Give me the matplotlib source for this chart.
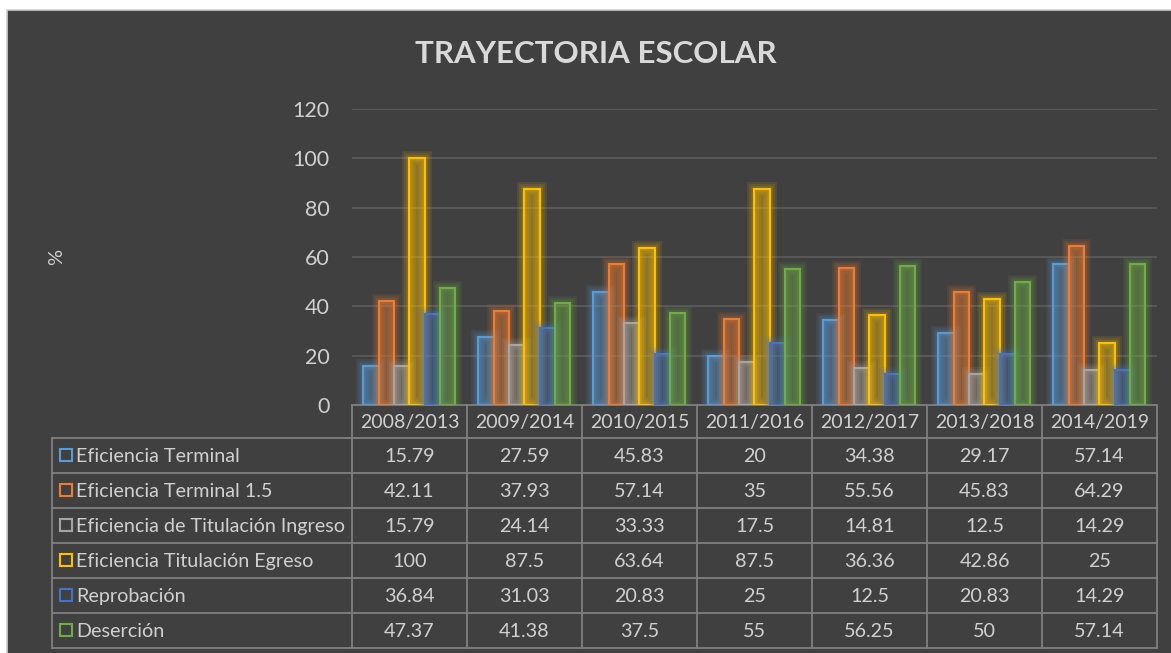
import matplotlib
matplotlib.use("Agg")
import matplotlib.pyplot as plt
import matplotlib.patheffects as pe
from matplotlib.patches import Rectangle
import numpy as np

plt.rcParams['font.family'] = ['Lato', 'DejaVu Sans']

title = "TRAYECTORIA ESCOLAR"
categories = ["2008/2013", "2009/2014", "2010/2015", "2011/2016", "2012/2017", "2013/2018", "2014/2019"]
series_names = ["Eficiencia Terminal", "Eficiencia Terminal 1.5", "Eficiencia de Titulación Ingreso",
                "Eficiencia Titulación Egreso", "Reprobación", "Deserción"]
eficiencia_terminal = [15.79, 27.59, 45.83, 20, 34.38, 29.17, 57.14]
eficiencia_terminal_15 = [42.11, 37.93, 57.14, 35, 55.56, 45.83, 64.29]
titulacion_ingreso = [15.79, 24.14, 33.33, 17.5, 14.81, 12.5, 14.29]
titulacion_egreso = [100, 87.5, 63.64, 87.5, 36.36, 42.86, 25]
reprobacion = [36.84, 31.03, 20.83, 25, 12.5, 20.83, 14.29]
desercion = [47.37, 41.38, 37.5, 55, 56.25, 50, 57.14]
table_labels = [["15.79", "27.59", "45.83", "20", "34.38", "29.17", "57.14"],
                ["42.11", "37.93", "57.14", "35", "55.56", "45.83", "64.29"],
                ["15.79", "24.14", "33.33", "17.5", "14.81", "12.5", "14.29"],
                ["100", "87.5", "63.64", "87.5", "36.36", "42.86", "25"],
                ["36.84", "31.03", "20.83", "25", "12.5", "20.83", "14.29"],
                ["47.37", "41.38", "37.5", "55", "56.25", "50", "57.14"]]
series = [eficiencia_terminal, eficiencia_terminal_15, titulacion_ingreso,
          titulacion_egreso, reprobacion, desercion]
colors = ["#5B9BD5", "#ED7D31", "#A5A5A5", "#FFC000", "#4472C4", "#70AD47"]
yticks = [0, 20, 40, 60, 80, 100, 120]

W, H = 1171, 653
BG = "#404040"
TXT = "#D0D0D0"
LINE = "#808080"

fig = plt.figure(figsize=(W / 100, H / 100), dpi=100)
fig.patch.set_facecolor("white")

# overlay axes in pixel coordinates for frame and table
ov = fig.add_axes([0, 0, 1, 1])
ov.set_xlim(0, W)
ov.set_ylim(H, 0)
ov.axis("off")
ov.add_patch(Rectangle((6.5, 9.5), W, H, facecolor=BG, edgecolor="#D0D0D0", lw=1.2, zorder=0))

# plot axes
x0, x1 = 352, 1157
y0, y1 = 405, 109
ax = fig.add_axes([x0 / W, (H - y0) / H, (x1 - x0) / W, (y0 - y1) / H])
ax.set_facecolor("none")
ax.set_xlim(0, len(categories))
ax.set_ylim(0, 120)
for s in ax.spines.values():
    s.set_visible(False)
ax.set_yticks(yticks)
ax.set_yticklabels([str(v) for v in yticks], color=TXT, fontsize=15.5)
ax.tick_params(axis="y", length=0, pad=16)
ax.set_xticks([])
for v in yticks[1:]:
    ax.axhline(v, color="#5A5A5A", lw=1.3, zorder=0)

n = len(series)
group_w = 0.8
bw = group_w / n
xs = np.arange(len(categories))
for i, (vals, c) in enumerate(zip(series, colors)):
    pos = xs + 0.1 + bw * (i + 0.5)
    bars = ax.bar(pos, vals, width=bw, facecolor=matplotlib.colors.to_rgba(c, 0.13),
                  edgecolor=c, lw=1.5, zorder=2)
    for b in bars:
        b.set_path_effects([pe.Stroke(linewidth=10, foreground=c, alpha=0.1),
                            pe.Stroke(linewidth=7, foreground=c, alpha=0.12),
                            pe.Stroke(linewidth=4, foreground=c, alpha=0.15),
                            pe.Normal()])

fig.text(57 / W, 1 - 257 / H, "%", rotation=90, color=TXT, fontsize=14.5,
         ha="center", va="center")

fig.text(596 / W, 1 - 54 / H, title, color="#D9D9D9", fontsize=22.5, fontweight="bold",
         ha="center", va="center")

# table
col_w = (x1 - x0) / len(categories)
hdr_top, hdr_bot = 405, 437.5
row_h = (648 - 437.5) / len(series_names)
lab_x = 52
lw_t = 1.3
ov.plot([x0, x1], [hdr_top, hdr_top], color=LINE, lw=lw_t)
for j in range(len(categories) + 1):
    ov.plot([x0 + j * col_w] * 2, [hdr_top, 648], color=LINE, lw=lw_t)
for j, cat in enumerate(categories):
    ov.text(x0 + (j + 0.5) * col_w, (hdr_top + hdr_bot) / 2 + 1, cat, color=TXT,
            fontsize=14, ha="center", va="center")
for r in range(len(series_names) + 1):
    yy = hdr_bot + r * row_h
    ov.plot([lab_x, x1], [yy, yy], color=LINE, lw=lw_t)
ov.plot([lab_x, lab_x], [hdr_bot, 648], color=LINE, lw=lw_t)
for r, (name, c) in enumerate(zip(series_names, colors)):
    yc = hdr_bot + (r + 0.5) * row_h
    ov.add_patch(Rectangle((60, yc - 6), 12, 12, facecolor="none", edgecolor=c, lw=1.5))
    ov.text(76, yc + 1, name, color=TXT, fontsize=14.2, ha="left", va="center")
    for j in range(len(categories)):
        ov.text(x0 + (j + 0.5) * col_w, yc + 1, table_labels[r][j], color=TXT,
                fontsize=14.2, ha="center", va="center")

fig.savefig("out.png", dpi=100, facecolor=fig.get_facecolor())
